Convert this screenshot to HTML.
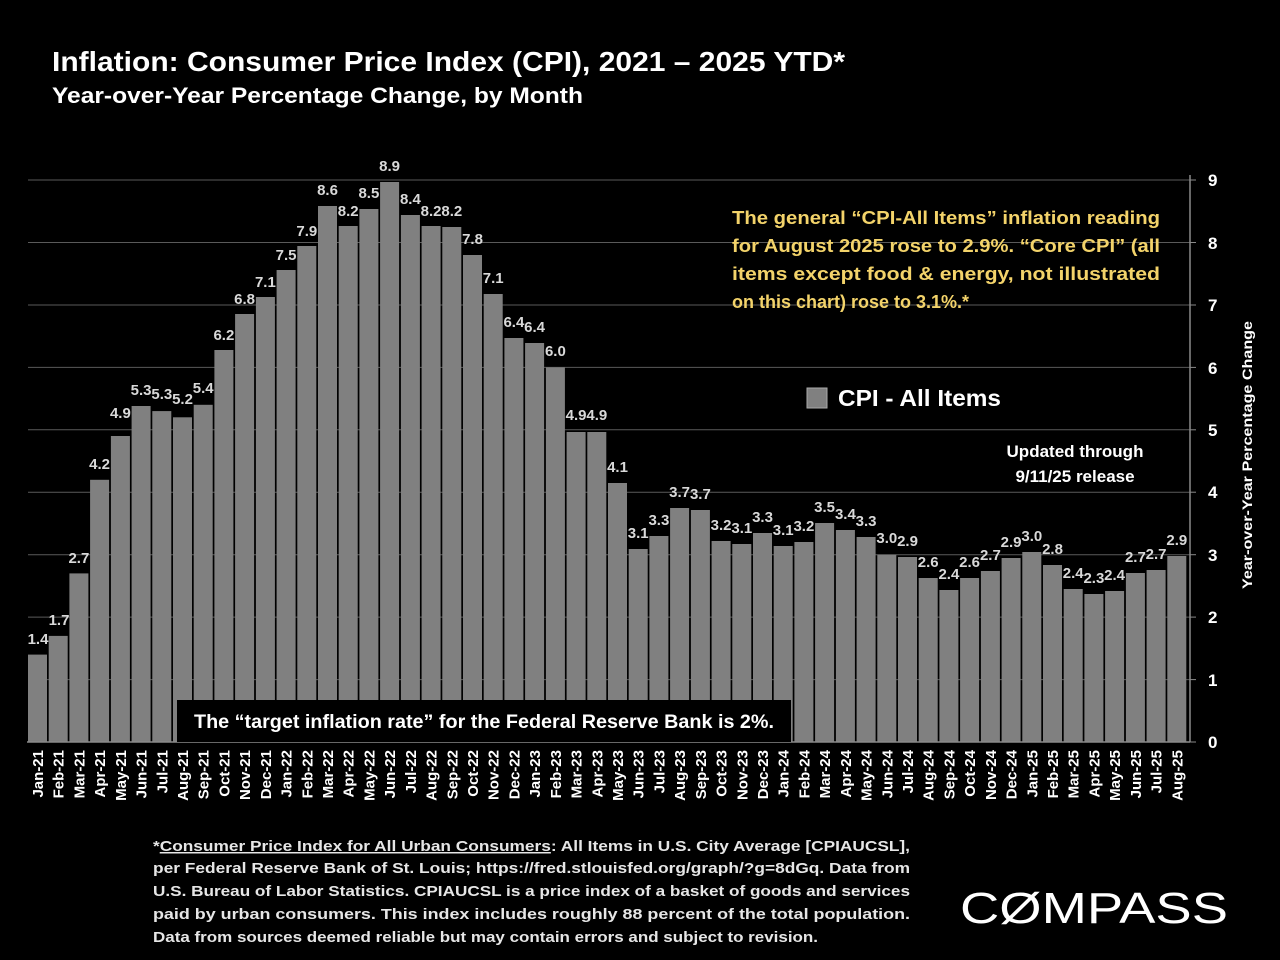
<!DOCTYPE html>
<html><head><meta charset="utf-8"><style>
html,body{margin:0;padding:0;background:#000;}
body{width:1280px;height:960px;overflow:hidden;position:relative;font-family:"Liberation Sans",sans-serif;}
</style></head><body>
<svg width="1280" height="960" viewBox="0 0 1280 960" xmlns="http://www.w3.org/2000/svg" style="position:absolute;left:0;top:0" font-family="Liberation Sans, sans-serif" font-weight="bold">
<text x="52" y="71" fill="#fff" font-size="28" textLength="793" lengthAdjust="spacingAndGlyphs">Inflation: Consumer Price Index (CPI), 2021 – 2025 YTD*</text>
<text x="52" y="103" fill="#fff" font-size="22" textLength="531" lengthAdjust="spacingAndGlyphs">Year-over-Year Percentage Change, by Month</text>
<g stroke="#5a5a5a" stroke-width="1">
<line x1="28" x2="1190" y1="679.6" y2="679.6"/><line x1="28" x2="1190" y1="617.1" y2="617.1"/><line x1="28" x2="1190" y1="554.7" y2="554.7"/><line x1="28" x2="1190" y1="492.2" y2="492.2"/><line x1="28" x2="1190" y1="429.8" y2="429.8"/><line x1="28" x2="1190" y1="367.4" y2="367.4"/><line x1="28" x2="1190" y1="305" y2="305"/><line x1="28" x2="1190" y1="242.5" y2="242.5"/><line x1="28" x2="1190" y1="180" y2="180"/>
</g>
<g fill="#808080">
<rect x="28.0" y="654.6" width="19" height="87.4"/>
<rect x="48.7" y="635.9" width="19" height="106.1"/>
<rect x="69.4" y="573.4" width="19" height="168.6"/>
<rect x="90.1" y="479.8" width="19" height="262.2"/>
<rect x="110.9" y="436.0" width="19" height="306"/>
<rect x="131.6" y="406" width="19" height="336"/>
<rect x="152.3" y="411.1" width="19" height="330.9"/>
<rect x="173.0" y="417.3" width="19" height="324.7"/>
<rect x="193.7" y="404.8" width="19" height="337.2"/>
<rect x="214.4" y="350" width="19" height="392"/>
<rect x="235.1" y="314" width="19" height="428"/>
<rect x="255.9" y="297" width="19" height="445"/>
<rect x="276.6" y="270" width="19" height="472"/>
<rect x="297.3" y="246" width="19" height="496"/>
<rect x="318.0" y="206" width="19" height="536"/>
<rect x="338.7" y="226" width="19" height="516"/>
<rect x="359.4" y="209" width="19" height="533"/>
<rect x="380.1" y="182" width="19" height="560"/>
<rect x="400.9" y="215" width="19" height="527"/>
<rect x="421.6" y="226" width="19" height="516"/>
<rect x="442.3" y="227" width="19" height="515"/>
<rect x="463.0" y="255" width="19" height="487"/>
<rect x="483.7" y="294" width="19" height="448"/>
<rect x="504.4" y="338" width="19" height="404"/>
<rect x="525.1" y="343" width="19" height="399"/>
<rect x="545.9" y="367.4" width="19" height="374.6"/>
<rect x="566.6" y="432" width="19" height="310"/>
<rect x="587.3" y="432" width="19" height="310"/>
<rect x="608.0" y="483" width="19" height="259"/>
<rect x="628.7" y="549" width="19" height="193"/>
<rect x="649.4" y="536" width="19" height="206"/>
<rect x="670.1" y="508" width="19" height="234"/>
<rect x="690.9" y="510" width="19" height="232"/>
<rect x="711.6" y="541" width="19" height="201"/>
<rect x="732.3" y="544" width="19" height="198"/>
<rect x="753.0" y="533" width="19" height="209"/>
<rect x="773.7" y="546" width="19" height="196"/>
<rect x="794.4" y="542" width="19" height="200"/>
<rect x="815.1" y="523" width="19" height="219"/>
<rect x="835.9" y="530" width="19" height="212"/>
<rect x="856.6" y="537" width="19" height="205"/>
<rect x="877.3" y="554.7" width="19" height="187.3"/>
<rect x="898.0" y="557" width="19" height="185"/>
<rect x="918.7" y="578" width="19" height="164"/>
<rect x="939.4" y="590" width="19" height="152"/>
<rect x="960.1" y="578" width="19" height="164"/>
<rect x="980.9" y="571" width="19" height="171"/>
<rect x="1001.6" y="558" width="19" height="184"/>
<rect x="1022.3" y="552" width="19" height="190"/>
<rect x="1043.0" y="565" width="19" height="177"/>
<rect x="1063.7" y="589" width="19" height="153"/>
<rect x="1084.4" y="594" width="19" height="148"/>
<rect x="1105.1" y="591" width="19" height="151"/>
<rect x="1125.9" y="573" width="19" height="169"/>
<rect x="1146.6" y="570" width="19" height="172"/>
<rect x="1167.3" y="556" width="19" height="186"/>
</g>
<g fill="#d9d9d9" font-size="15" text-anchor="middle">
<text x="38" y="644">1.4</text><text x="59" y="625">1.7</text><text x="78.9" y="563">2.7</text><text x="99.6" y="469">4.2</text><text x="120.4" y="418">4.9</text><text x="141.1" y="395">5.3</text><text x="161.8" y="399">5.3</text><text x="182.5" y="404">5.2</text><text x="203.2" y="393">5.4</text><text x="223.9" y="340">6.2</text><text x="244.6" y="304">6.8</text><text x="265.4" y="287">7.1</text><text x="286.1" y="260">7.5</text><text x="306.8" y="236">7.9</text><text x="327.5" y="195">8.6</text><text x="348.2" y="216">8.2</text><text x="368.9" y="198">8.5</text><text x="389.6" y="171">8.9</text><text x="410.4" y="204">8.4</text><text x="431.1" y="216">8.2</text><text x="451.8" y="216">8.2</text><text x="472.5" y="244">7.8</text><text x="493.2" y="283">7.1</text><text x="513.9" y="327">6.4</text><text x="534.6" y="332">6.4</text><text x="555.4" y="356">6.0</text><text x="576.1" y="420">4.9</text><text x="596.8" y="420">4.9</text><text x="617.5" y="472">4.1</text><text x="638.2" y="538">3.1</text><text x="658.9" y="525">3.3</text><text x="679.6" y="497">3.7</text><text x="700.4" y="499">3.7</text><text x="721.1" y="530">3.2</text><text x="741.8" y="533">3.1</text><text x="762.5" y="522">3.3</text><text x="783.2" y="535">3.1</text><text x="803.9" y="531">3.2</text><text x="824.6" y="512">3.5</text><text x="845.4" y="519">3.4</text><text x="866.1" y="526">3.3</text><text x="886.8" y="543">3.0</text><text x="907.5" y="546">2.9</text><text x="928.2" y="567">2.6</text><text x="948.9" y="579">2.4</text><text x="969.6" y="567">2.6</text><text x="990.4" y="560">2.7</text><text x="1011.1" y="547">2.9</text><text x="1031.8" y="541">3.0</text><text x="1052.5" y="554">2.8</text><text x="1073.2" y="578">2.4</text><text x="1093.9" y="583">2.3</text><text x="1114.6" y="580">2.4</text><text x="1135.4" y="562">2.7</text><text x="1156.1" y="559">2.7</text><text x="1176.8" y="545">2.9</text>
</g>
<line x1="27" x2="1190" y1="742" y2="742" stroke="#8a8a8a" stroke-width="1.5"/>
<line x1="1190" x2="1190" y1="175" y2="742" stroke="#8a8a8a" stroke-width="1.5"/>
<g stroke="#8a8a8a" stroke-width="1">
<line x1="1190" x2="1196" y1="742" y2="742"/><line x1="1190" x2="1196" y1="679.6" y2="679.6"/><line x1="1190" x2="1196" y1="617.1" y2="617.1"/><line x1="1190" x2="1196" y1="554.7" y2="554.7"/><line x1="1190" x2="1196" y1="492.2" y2="492.2"/><line x1="1190" x2="1196" y1="429.8" y2="429.8"/><line x1="1190" x2="1196" y1="367.4" y2="367.4"/><line x1="1190" x2="1196" y1="305" y2="305"/><line x1="1190" x2="1196" y1="242.5" y2="242.5"/><line x1="1190" x2="1196" y1="180" y2="180"/>
</g>
<g fill="#fff" font-size="17">
<text x="1208" y="748">0</text><text x="1208" y="686">1</text><text x="1208" y="623">2</text><text x="1208" y="561">3</text><text x="1208" y="498">4</text><text x="1208" y="436">5</text><text x="1208" y="374">6</text><text x="1208" y="311">7</text><text x="1208" y="249">8</text><text x="1208" y="186">9</text>
</g>
<text transform="translate(1252,455) rotate(-90)" fill="#fff" font-size="14" text-anchor="middle" textLength="268" lengthAdjust="spacingAndGlyphs">Year-over-Year Percentage Change</text>
<g fill="#fff" font-size="15" text-anchor="end">
<text transform="translate(43,750) rotate(-90)">Jan-21</text><text transform="translate(63.7,750) rotate(-90)">Feb-21</text><text transform="translate(84.4,750) rotate(-90)">Mar-21</text><text transform="translate(105.1,750) rotate(-90)">Apr-21</text><text transform="translate(125.9,750) rotate(-90)">May-21</text><text transform="translate(146.6,750) rotate(-90)">Jun-21</text><text transform="translate(167.3,750) rotate(-90)">Jul-21</text><text transform="translate(188,750) rotate(-90)">Aug-21</text><text transform="translate(208.7,750) rotate(-90)">Sep-21</text><text transform="translate(229.4,750) rotate(-90)">Oct-21</text><text transform="translate(250.1,750) rotate(-90)">Nov-21</text><text transform="translate(270.9,750) rotate(-90)">Dec-21</text>
<text transform="translate(291.6,750) rotate(-90)">Jan-22</text><text transform="translate(312.3,750) rotate(-90)">Feb-22</text><text transform="translate(333,750) rotate(-90)">Mar-22</text><text transform="translate(353.7,750) rotate(-90)">Apr-22</text><text transform="translate(374.4,750) rotate(-90)">May-22</text><text transform="translate(395.1,750) rotate(-90)">Jun-22</text><text transform="translate(415.9,750) rotate(-90)">Jul-22</text><text transform="translate(436.6,750) rotate(-90)">Aug-22</text><text transform="translate(457.3,750) rotate(-90)">Sep-22</text><text transform="translate(478,750) rotate(-90)">Oct-22</text><text transform="translate(498.7,750) rotate(-90)">Nov-22</text><text transform="translate(519.4,750) rotate(-90)">Dec-22</text>
<text transform="translate(540.1,750) rotate(-90)">Jan-23</text><text transform="translate(560.9,750) rotate(-90)">Feb-23</text><text transform="translate(581.6,750) rotate(-90)">Mar-23</text><text transform="translate(602.3,750) rotate(-90)">Apr-23</text><text transform="translate(623,750) rotate(-90)">May-23</text><text transform="translate(643.7,750) rotate(-90)">Jun-23</text><text transform="translate(664.4,750) rotate(-90)">Jul-23</text><text transform="translate(685.1,750) rotate(-90)">Aug-23</text><text transform="translate(705.9,750) rotate(-90)">Sep-23</text><text transform="translate(726.6,750) rotate(-90)">Oct-23</text><text transform="translate(747.3,750) rotate(-90)">Nov-23</text><text transform="translate(768,750) rotate(-90)">Dec-23</text>
<text transform="translate(788.7,750) rotate(-90)">Jan-24</text><text transform="translate(809.4,750) rotate(-90)">Feb-24</text><text transform="translate(830.1,750) rotate(-90)">Mar-24</text><text transform="translate(850.9,750) rotate(-90)">Apr-24</text><text transform="translate(871.6,750) rotate(-90)">May-24</text><text transform="translate(892.3,750) rotate(-90)">Jun-24</text><text transform="translate(913,750) rotate(-90)">Jul-24</text><text transform="translate(933.7,750) rotate(-90)">Aug-24</text><text transform="translate(954.4,750) rotate(-90)">Sep-24</text><text transform="translate(975.1,750) rotate(-90)">Oct-24</text><text transform="translate(995.9,750) rotate(-90)">Nov-24</text><text transform="translate(1016.6,750) rotate(-90)">Dec-24</text>
<text transform="translate(1037.3,750) rotate(-90)">Jan-25</text><text transform="translate(1058,750) rotate(-90)">Feb-25</text><text transform="translate(1078.7,750) rotate(-90)">Mar-25</text><text transform="translate(1099.4,750) rotate(-90)">Apr-25</text><text transform="translate(1120.1,750) rotate(-90)">May-25</text><text transform="translate(1140.9,750) rotate(-90)">Jun-25</text><text transform="translate(1161.6,750) rotate(-90)">Jul-25</text><text transform="translate(1182.3,750) rotate(-90)">Aug-25</text>
</g>
<rect x="177" y="700" width="614" height="42" fill="#000"/>
<text x="484" y="728" fill="#fff" font-size="19" text-anchor="middle" textLength="580" lengthAdjust="spacingAndGlyphs">The “target inflation rate” for the Federal Reserve Bank is 2%.</text>
<rect x="807" y="388" width="20" height="20" fill="#808080" stroke="#aaa" stroke-width="1"/>
<text x="838" y="406" fill="#fff" font-size="23" textLength="163" lengthAdjust="spacingAndGlyphs">CPI - All Items</text>
<g fill="#fff" font-size="17" text-anchor="middle">
<text x="1075" y="457">Updated through</text><text x="1075" y="482">9/11/25 release</text>
</g>
<g fill="#f3d36a" font-size="18">
<text x="732" y="224" textLength="428" lengthAdjust="spacingAndGlyphs">The general “CPI-All Items” inflation reading</text>
<text x="732" y="252" textLength="428" lengthAdjust="spacingAndGlyphs">for August 2025 rose to 2.9%. “Core CPI” (all</text>
<text x="732" y="280" textLength="428" lengthAdjust="spacingAndGlyphs">items except food &amp; energy, not illustrated</text>
<text x="732" y="308">on this chart) rose to 3.1%.*</text>
</g>
<g fill="#e6e6e6" font-size="15">
<text x="153" y="851" textLength="757" lengthAdjust="spacingAndGlyphs">*<tspan text-decoration="underline">Consumer Price Index for All Urban Consumers</tspan>: All Items in U.S. City Average [CPIAUCSL],</text>
<text x="153" y="873" textLength="757" lengthAdjust="spacingAndGlyphs">per Federal Reserve Bank of St. Louis; https://fred.stlouisfed.org/graph/?g=8dGq. Data from</text>
<text x="153" y="896" textLength="757" lengthAdjust="spacingAndGlyphs">U.S. Bureau of Labor Statistics. CPIAUCSL is a price index of a basket of goods and services</text>
<text x="153" y="919" textLength="757" lengthAdjust="spacingAndGlyphs">paid by urban consumers. This index includes roughly 88 percent of the total population.</text>
<text x="153" y="942" textLength="665" lengthAdjust="spacingAndGlyphs">Data from sources deemed reliable but may contain errors and subject to revision.</text>
</g>
<text x="960" y="923" fill="#fff" font-size="44" font-weight="normal" textLength="268" lengthAdjust="spacingAndGlyphs">CØMPASS</text>
</svg>
</body></html>
